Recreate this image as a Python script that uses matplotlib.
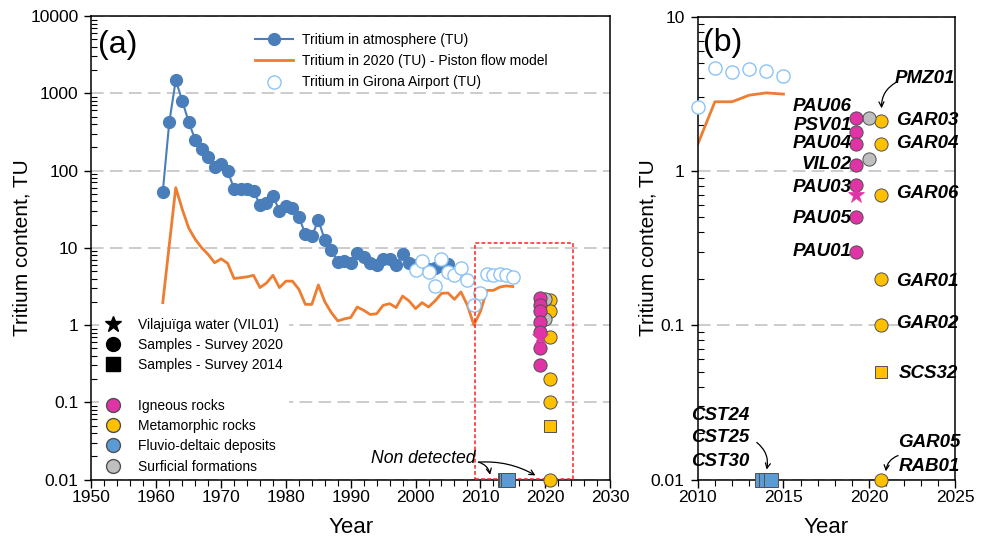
import matplotlib
matplotlib.use('Agg')
import matplotlib.pyplot as plt
from matplotlib.lines import Line2D
from matplotlib.patches import Rectangle
from matplotlib.ticker import LogLocator, MultipleLocator, NullFormatter, FixedLocator, FixedFormatter

plt.rcParams['font.family'] = ['Liberation Sans', 'DejaVu Sans']

# tritium in atmosphere (TU)
atm_years = [1961, 1962, 1963, 1964, 1965, 1966, 1967, 1968, 1969, 1970,
             1971, 1972, 1973, 1974, 1975, 1976, 1977, 1978, 1979, 1980,
             1981, 1982, 1983, 1984, 1985, 1986, 1987, 1988, 1989, 1990,
             1991, 1992, 1993, 1994, 1995, 1996, 1997, 1998, 1999, 2000,
             2001, 2002, 2003, 2004, 2005]
atm_tu = [53, 420, 1480, 800, 425, 250, 189, 150, 112, 123,
          99, 58, 58, 57, 54, 36, 38, 47, 30, 35,
          33, 25, 15, 14, 23, 12.5, 9.4, 6.6, 6.7, 6.3,
          8.5, 7.7, 6.3, 5.9, 7.1, 7.1, 5.9, 8.2, 6.4, 6.0,
          5.6, 5.3, 5.5, 5.8, 6.1]

# piston flow model, tritium in 2020
pfm_years = [1961, 1962, 1963, 1964, 1965, 1966, 1967, 1968, 1969, 1970,
             1971, 1972, 1973, 1974, 1975, 1976, 1977, 1978, 1979, 1980,
             1981, 1982, 1983, 1984, 1985, 1986, 1987, 1988, 1989, 1990,
             1991, 1992, 1993, 1994, 1995, 1996, 1997, 1998, 1999, 2000,
             2001, 2002, 2003, 2004, 2005, 2006, 2007, 2008, 2009, 2010,
             2011, 2012, 2013, 2014, 2015]
pfm_tu = [1.95, 10.8, 60, 31.6, 18, 12.9, 10, 8.2, 6.4, 7.2,
          6.3, 4.0, 4.1, 4.2, 4.4, 3.05, 3.5, 4.4, 3.05, 3.7,
          3.7, 2.9, 1.85, 1.85, 3.3, 2.0, 1.45, 1.13, 1.2, 1.25,
          1.71, 1.55, 1.37, 1.4, 1.8, 1.89, 1.68, 2.37, 2.05, 1.63,
          1.95, 1.71, 2.05, 2.57, 2.6, 2.15, 2.68, 1.8, 1.0, 1.49,
          2.81, 2.81, 3.1, 3.21, 3.15]

# Girona airport
gir_years = [2000, 2001, 2002, 2003, 2004, 2005, 2006, 2007, 2008, 2009,
             2010, 2011, 2012, 2013, 2014, 2015]
gir_tu = [5.15, 6.75, 4.86, 3.2, 7.1, 4.8, 4.4, 5.4, 3.8, 1.8,
          2.6, 4.62, 4.4, 4.57, 4.44, 4.14]

# samples
ign_names = ['PAU06', 'PSV01', 'PAU04', 'VIL02', 'PAU03', 'PAU05', 'PAU01']
ign_year = [2019.2] * 7
ign_tu = [2.21, 1.8, 1.5, 1.1, 0.81, 0.5, 0.30]
vil01_year = [2019.2]
vil01_tu = [0.70]

met_names = ['GAR03', 'GAR04', 'GAR06', 'GAR01', 'GAR02', 'GAR05\nRAB01']
met_year = [2020.7] * 6
met_tu = [2.1, 1.5, 0.70, 0.2, 0.1, 0.01]
met14_names = ['SCS32']
met14_year = [2020.7]
met14_tu = [0.0495]

sur_names = ['PMZ01', '']
sur_year = [2020.0, 2020.0]
sur_tu = [2.2, 1.2]

flu_names = ['CST24', 'CST25', 'CST30']
flu_year = [2013.75, 2014.0, 2014.25]
flu_tu = [0.01, 0.01, 0.01]

c_atm = '#4a7ebb'
c_pfm = '#ed7d31'
c_gir = '#8cc4f7'
c_ign = '#e033a6'
c_met = '#ffc000'
c_flu = '#5b9bd5'
c_sur = '#bfbfbf'
c_edge = '#505050'
grid_kw = dict(color='#c8c8c8', linestyle=(0, (7, 3.5)), linewidth=1.3)

fig = plt.figure(figsize=(9.89, 5.43), dpi=100)
ax1 = fig.add_axes([0.0925, 0.1169, 0.5243, 0.8536])
ax2 = fig.add_axes([0.7055, 0.1169, 0.2601, 0.8523])


def draw_samples(ax):
    ms = 9.5
    kw = dict(linestyle='none', markeredgecolor=c_edge, markeredgewidth=0.7,
              clip_on=False, zorder=6)
    ax.plot(flu_year, flu_tu, marker='s', markersize=ms, markerfacecolor=c_flu, **kw)
    ax.plot(met_year, met_tu, marker='o', markersize=ms, markerfacecolor=c_met, **kw)
    ax.plot(met14_year, met14_tu, marker='s', markersize=ms - 0.5, markerfacecolor=c_met, **kw)
    ax.plot(sur_year, sur_tu, marker='o', markersize=ms, markerfacecolor=c_sur, **kw)
    ax.plot(ign_year, ign_tu, marker='o', markersize=ms, markerfacecolor=c_ign, **kw)
    ax.plot(vil01_year, vil01_tu, marker='*', markersize=12, markerfacecolor=c_ign,
            linestyle='none', markeredgecolor=c_ign, markeredgewidth=0.5, zorder=7)


def style_axis(ax):
    ax.set_yscale('log')
    ax.yaxis.set_minor_locator(LogLocator(base=10, subs=range(2, 10), numticks=20))
    ax.yaxis.set_minor_formatter(NullFormatter())
    ax.tick_params(axis='both', which='major', labelsize=12.5, width=1)
    ax.tick_params(axis='x', which='major', length=5.8, pad=1.5)
    ax.tick_params(axis='y', which='major', length=5.4, pad=4)
    ax.tick_params(axis='y', which='minor', direction='in', length=4, width=0.8)
    ax.tick_params(axis='x', which='minor', direction='out', length=4, width=0.8)
    ax.yaxis.grid(True, which='major', **grid_kw)
    ax.set_axisbelow(True)
    for s in ax.spines.values():
        s.set_linewidth(1.1)


# ---------------- panel (a)
ax1.plot(atm_years, atm_tu, color=c_atm, marker='o', markersize=8.5, linewidth=1.5, zorder=3)
ax1.plot(pfm_years, pfm_tu, color=c_pfm, linewidth=2, zorder=2)
ax1.plot(gir_years, gir_tu, linestyle='none', marker='o', markersize=9.5,
         markerfacecolor='white', markeredgecolor=c_gir, markeredgewidth=1, zorder=4)
draw_samples(ax1)

ax1.add_patch(Rectangle((2009.2, 0.0102), 15.1, 11.7 - 0.0102, fill=False,
                        edgecolor='#ff2020', linestyle=(0, (2.5, 1.5)), linewidth=1.1, zorder=5))

ax1.set_xlim(1950, 2030)
ax1.set_ylim(0.01, 10000)
style_axis(ax1)
ax1.xaxis.set_major_locator(MultipleLocator(10))
ax1.xaxis.set_minor_locator(MultipleLocator(2))
ytick_vals_a = [0.01, 0.1, 1, 10, 100, 1000, 10000]
ytick_labs_a = ['0.01', '0.1', '1', '10', '100', '1000', '10000']
ax1.yaxis.set_major_locator(FixedLocator(ytick_vals_a))
ax1.yaxis.set_major_formatter(FixedFormatter(ytick_labs_a))
ax1.set_xlabel('Year', fontsize=16, labelpad=9)
ax1.set_ylabel('Tritium content, TU', fontsize=15)
ax1.yaxis.set_label_coords(-0.115, 0.5)
ax1.text(0.013, 0.937, '(a)', transform=ax1.transAxes, fontsize=23, va='center', ha='left')

ax1.text(2009.3, 0.0188, 'Non detected', fontsize=12.7, style='italic', ha='right', va='center', zorder=8)
arr = dict(arrowstyle='->', color='black', lw=0.9, shrinkA=0, shrinkB=0, mutation_scale=9)
ax1.annotate('', xy=(2011.5, 0.0115), xytext=(2009.7, 0.0168),
             arrowprops=dict(connectionstyle='arc3,rad=-0.3', **arr), zorder=8)
ax1.annotate('', xy=(2018.5, 0.0113), xytext=(2009.7, 0.0168),
             arrowprops=dict(connectionstyle='arc3,rad=-0.15', **arr), zorder=8)

h_top = [Line2D([], [], color=c_atm, marker='o', markersize=8.5, linewidth=1.5),
         Line2D([], [], color=c_pfm, linewidth=2),
         Line2D([], [], linestyle='none', marker='o', markersize=9.5,
                markerfacecolor='white', markeredgecolor=c_gir)]
l_top = ['Tritium in atmosphere (TU)', 'Tritium in 2020 (TU) - Piston flow model',
         'Tritium in Girona Airport (TU)']
leg1 = ax1.legend(h_top, l_top, loc='upper left', bbox_to_anchor=(0.315, 0.964),
                  frameon=False, fontsize=10, handlelength=2.75, handletextpad=0.65,
                  labelspacing=0.53, borderpad=0, borderaxespad=0)
ax1.add_artist(leg1)

mk = dict(linestyle='none', markersize=10)
h_bot = [Line2D([], [], marker='*', color='black', markersize=12, linestyle='none'),
         Line2D([], [], marker='o', color='black', **mk),
         Line2D([], [], marker='s', color='black', markersize=9.5, linestyle='none'),
         Line2D([], [], linestyle='none'),
         Line2D([], [], marker='o', markerfacecolor=c_ign, markeredgecolor=c_edge, **mk),
         Line2D([], [], marker='o', markerfacecolor=c_met, markeredgecolor=c_edge, **mk),
         Line2D([], [], marker='o', markerfacecolor=c_flu, markeredgecolor=c_edge, **mk),
         Line2D([], [], marker='o', markerfacecolor=c_sur, markeredgecolor=c_edge, **mk)]
l_bot = ['Vilajuïga water (VIL01)', 'Samples - Survey 2020', 'Samples - Survey 2014', ' ',
         'Igneous rocks', 'Metamorphic rocks', 'Fluvio-deltaic deposits', 'Surficial formations']
leg2 = ax1.legend(h_bot, l_bot, loc='upper left', bbox_to_anchor=(0.015, 0.361),
                  frameon=True, facecolor='white', edgecolor='none', framealpha=1,
                  fontsize=10, handlelength=1.2, handletextpad=1.2,
                  labelspacing=0.45, borderpad=0.4, borderaxespad=0)
leg2.set_zorder(3.5)

# ---------------- panel (b)
ax2.plot(pfm_years, pfm_tu, color=c_pfm, linewidth=2, zorder=2)
gir_b_years = [y for y in gir_years if y >= 2010]
gir_b_tu = [v for y, v in zip(gir_years, gir_tu) if y >= 2010]
ax2.plot(gir_b_years, gir_b_tu, linestyle='none', marker='o', markersize=9.5,
         markerfacecolor='white', markeredgecolor=c_gir, markeredgewidth=1, zorder=4, clip_on=False)
draw_samples(ax2)

ax2.set_xlim(2010, 2025)
ax2.set_ylim(0.01, 10)
style_axis(ax2)
ax2.xaxis.set_major_locator(MultipleLocator(5))
ax2.xaxis.set_minor_locator(MultipleLocator(1))
ytick_vals_b = [0.01, 0.1, 1, 10]
ytick_labs_b = ['0.01', '0.1', '1', '10']
ax2.yaxis.set_major_locator(FixedLocator(ytick_vals_b))
ax2.yaxis.set_major_formatter(FixedFormatter(ytick_labs_b))
ax2.set_xlabel('Year', fontsize=16, labelpad=9)
ax2.set_ylabel('Tritium content, TU', fontsize=15)
ax2.yaxis.set_label_coords(-0.158, 0.5)
ax2.text(0.022, 0.944, '(b)', transform=ax2.transAxes, fontsize=23, va='center', ha='left')

lab = dict(fontsize=13.5, fontweight='bold', style='italic', va='center', zorder=8)
ign_lab_y = [2.61, 1.98, 1.50, 1.10, 0.78, 0.49, 0.30]
for name, yv in zip(ign_names, ign_lab_y):
    ax2.text(2018.97, yv, name, ha='right', **lab)
met_lab_y = [2.14, 1.5, 0.71, 0.192, 0.102]
for name, yv in zip(met_names[:5], met_lab_y):
    ax2.text(2021.55, yv, name, ha='left', **lab)
ax2.text(2021.7, 0.0485, met14_names[0], ha='left', **lab)
ax2.text(2021.7, 0.0173, 'GAR05', ha='left', **lab)
ax2.text(2021.7, 0.0122, 'RAB01', ha='left', **lab)
ax2.text(2021.5, 4.0, sur_names[0], ha='left', **lab)
for name, yv in zip(flu_names, [0.026, 0.0186, 0.0131]):
    ax2.text(2009.6, yv, name, ha='left', clip_on=False, **lab)

ax2.annotate('', xy=(2020.72, 2.55), xytext=(2021.59, 3.77),
             arrowprops=dict(connectionstyle='arc3,rad=0.3', **arr), zorder=8)
ax2.annotate('', xy=(2014.02, 0.0116), xytext=(2013.44, 0.0174),
             arrowprops=dict(connectionstyle='arc3,rad=-0.3', **arr), zorder=8)
ax2.annotate('', xy=(2020.97, 0.0113), xytext=(2021.68, 0.0143),
             arrowprops=dict(connectionstyle='arc3,rad=0.3', **arr), zorder=8)

fig.savefig('out.png', dpi=100)
